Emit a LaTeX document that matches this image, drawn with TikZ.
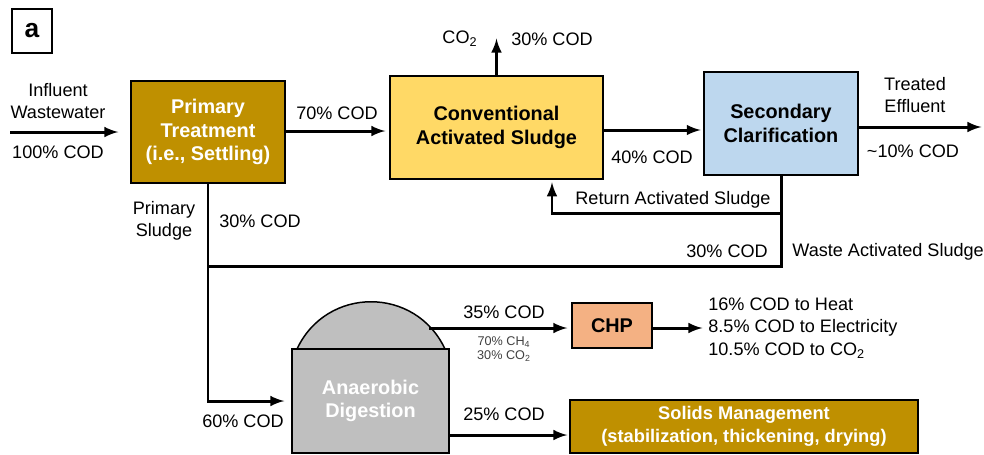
\documentclass[tikz,border=0pt]{standalone}
\usepackage{fontspec}
\setmainfont{Liberation Sans}
\usetikzlibrary{arrows}

\definecolor{gold}{HTML}{BF9000}
\definecolor{sunny}{HTML}{FFD966}
\definecolor{skyblue}{HTML}{BDD7EE}
\definecolor{salmon}{HTML}{F4B183}
\definecolor{tankgray}{HTML}{BFBFBF}
\definecolor{notegray}{HTML}{404040}

\begin{document}
\begin{tikzpicture}[x=0.02cm, y=-0.02cm, font=\fontsize{10.3}{12.5}\selectfont]
  \tikzstyle{unit}=[draw, line width=0.85pt, align=center, inner sep=0pt,
    font=\fontsize{11.3}{13.3}\selectfont\bfseries]
  \tikzstyle{flow}=[->, >=latex, line width=1.7pt, shorten >=1.5pt]
  \tikzstyle{pipe}=[line width=1.7pt]
  \tikzstyle{lbl}=[align=center, inner sep=0pt]

  \useasboundingbox (0,0) rectangle (984,454);

  \node[draw, line width=0.85pt, minimum width=0.8cm, minimum height=0.88cm,
    font=\fontsize{15}{18}\selectfont\bfseries] (tag) at (32,31) {a}; % Panel letter

  % Process units
  \node[unit, fill=gold, text=white, minimum width=3.08cm, minimum height=2.04cm]
    (PT) at (208,132) {Primary\\Treatment\\(i.e., Settling)};
  \node[unit, fill=sunny, minimum width=4.26cm, minimum height=2.06cm]
    (CAS) at (496.5,127.5) {Conventional\\Activated Sludge};
  \node[unit, fill=skyblue, minimum width=3.08cm, minimum height=2.06cm]
    (SC) at (781,123.5) {Secondary\\Clarification};
  \draw[fill=tankgray, line width=0.85pt] (297,349) .. controls (326.5,286) and (415.5,286) .. (445,349) -- cycle; % Digester dome
  \node[unit, fill=tankgray, text=white, minimum width=3.14cm, minimum height=2.08cm]
    (AD) at (370.5,401) {Anaerobic\\Digestion};
  \node[unit, fill=salmon, minimum width=1.6cm, minimum height=0.9cm]
    (CHP) at (612,325.5) {CHP};
  \node[unit, fill=gold, text=white, minimum width=6.96cm, minimum height=1.06cm,
    font=\fontsize{10.4}{13}\selectfont\bfseries]
    (SM) at (744,426.5) {Solids Management\\(stabilization, thickening, drying)};

  % Free ends and bends
  \coordinate (inflow) at (10,132);
  \coordinate (co2) at (496.5,36);
  \coordinate (effl) at (984,127);
  \coordinate (ras) at (552,213);
  \coordinate (was) at (781,266);
  \coordinate (dome) at (429,328);
  \coordinate (chpout) at (705,328);
  \coordinate (adout) at (449,435);

  % Flows
  \draw[flow, shorten >=0.24cm] (inflow) -- (inflow -| PT.west);
  \draw[flow, shorten >=0.08cm] (PT.east |- 0,131) -- (CAS.west |- 0,131);
  \draw[flow] (CAS.north) -- (co2);
  \draw[flow] (CAS.east |- 0,130) -- (SC.west |- 0,130);
  \draw[flow] (SC.east |- effl) -- (effl);
  \draw[flow] (SC.south) |- (ras) -- (ras |- CAS.south); % Return sludge
  \draw[pipe] (SC.south) -- (was) -- (was -| PT.south); % Waste sludge
  \draw[flow, shorten >=0.14cm] (PT.south) |- (AD.west); % Primary sludge
  \draw[flow, shorten >=0.08cm] (dome) -- (dome -| CHP.west);
  \draw[flow] (CHP.east |- chpout) -- (chpout);
  \draw[flow, shorten >=0.04cm] (adout) -- (adout -| SM.west);

  % Labels
  \node[lbl] (infl) at (58,101) {Influent\\Wastewater};
  \node[lbl] (inCOD) at (58,152) {100\% COD};
  \node[lbl] (ptCOD) at (337,113) {70\% COD};
  \node[lbl] (psl) at (164,221) {Primary\\Sludge};
  \node[lbl] (psCOD) at (260,221) {30\% COD};
  \node[lbl] (co2l) at (460,39) {CO\textsubscript{2}};
  \node[lbl] (co2COD) at (552,39) {30\% COD};
  \node[lbl] (casCOD) at (652,157) {40\% COD};
  \node[lbl] (rasl) at (673,200) {Return Activated Sludge};
  \node[lbl] (wasCOD) at (727,251) {30\% COD};
  \node[lbl, anchor=west] (wasl) at (792,252) {Waste Activated Sludge};
  \node[lbl] (effll) at (915,95) {Treated\\Effluent};
  \node[lbl] (efflCOD) at (913,151) {\textasciitilde10\% COD};
  \node[lbl] (adCOD) at (243,421) {60\% COD};
  \node[lbl] (gasCOD) at (504,312) {35\% COD};
  \node[lbl, text=notegray, font=\fontsize{7.2}{8}\selectfont]
    (gasmix) at (504,349) {70\% CH\textsubscript{4}\\30\% CO\textsubscript{2}};
  \node[lbl] (solCOD) at (504,414) {25\% COD};
  \node[lbl, anchor=west, align=left, font=\fontsize{10.3}{12.8}\selectfont]
    (chpl) at (708,328) {16\% COD to Heat\\8.5\% COD to Electricity\\10.5\% COD to CO\textsubscript{2}};
\end{tikzpicture}
\end{document}
